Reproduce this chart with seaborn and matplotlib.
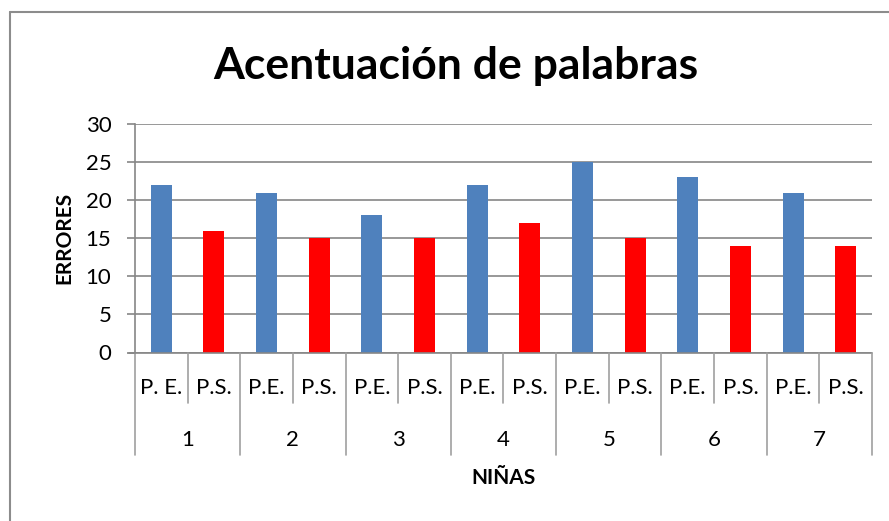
import matplotlib
matplotlib.use("Agg")
import matplotlib.pyplot as plt
import matplotlib.transforms as mtransforms
from matplotlib.lines import Line2D
import pandas as pd
import seaborn as sns

# ── Data ──────────────────────────────────────────────────────────────────────
ninas      = ["1", "2", "3", "4", "5", "6", "7"]
series     = ["P.E.", "P.S."]
pe_errores = [22, 21, 18, 22, 25, 23, 21]
ps_errores = [16, 15, 15, 17, 15, 14, 14]
# first P.E. label was typed with a space in the original sheet
pe_labels  = ["P. E.", "P.E.", "P.E.", "P.E.", "P.E.", "P.E.", "P.E."]
ps_labels  = ["P.S."] * 7
y_ticks    = [0, 5, 10, 15, 20, 25, 30]

_BLUE = "#4F81BD"
_RED  = "#FF0000"
_GRID = "#868686"
_FONT = ["Lato", "DejaVu Sans"]

rows = []
for n, pe, ps in zip(ninas, pe_errores, ps_errores):
    rows.append({"cat": f"{n}-PE", "serie": "P.E.", "errores": pe})
    rows.append({"cat": f"{n}-PS", "serie": "P.S.", "errores": ps})
df = pd.DataFrame(rows)
order = list(df["cat"])
labels = [l for pair in zip(pe_labels, ps_labels) for l in pair]

sns.set_style("white")
plt.rcParams["font.family"] = _FONT
plt.rcParams["text.color"] = "black"
plt.rcParams["axes.labelcolor"] = "black"
plt.rcParams["ytick.labelcolor"] = "black"

W, H = 889, 521
fig = plt.figure(figsize=(W / 100, H / 100), dpi=100)
ax = fig.add_axes([135 / W, 1 - 352.5 / H, (872 - 135) / W, (352.5 - 124) / H])

sns.barplot(data=df, x="cat", y="errores", hue="serie", order=order,
            hue_order=series, palette={"P.E.": _BLUE, "P.S.": _RED},
            saturation=1, dodge=False, width=0.4, legend=False,
            linewidth=0, ax=ax)

ax.set_xlim(-0.5, len(order) - 0.5)
ax.set_ylim(0, 30)
ax.set_yticks(y_ticks)
ax.yaxis.grid(True, color=_GRID, linewidth=1.2)
ax.set_axisbelow(True)
for s in ["top", "right", "bottom"]:
    ax.spines[s].set_visible(False)
ax.spines["left"].set_color(_GRID)
ax.spines["left"].set_linewidth(1.2)
ax.tick_params(axis="y", left=True, length=6, width=1.2, color=_GRID,
               labelsize=16, labelcolor="black", pad=11)
ax.set_xticks([])
ax.set_xlabel("")
ax.set_ylabel("ERRORES", fontsize=15, fontweight="bold", labelpad=8,
              color="black")

# ── Two-level category axis (Excel style) ────────────────────────────────────
trans = mtransforms.blended_transform_factory(ax.transData, ax.transAxes)
px = 1 / (352.5 - 124)    # one pixel in axes fraction (vertical)
y_inner = -(403 - 352.5) * px
y_outer = -(455 - 352.5) * px

ax.plot([-0.5 - 6 / 52.6, len(order) - 0.5], [0, 0], transform=trans,
        color=_GRID, lw=1.2, clip_on=False)
for i in range(len(order) + 1):
    x = i - 0.5
    y_end = y_outer if i % 2 == 0 else y_inner
    ax.plot([x, x], [0, y_end], transform=trans, color="#A0A0A0",
            lw=1.2, clip_on=False)
for i, lab in enumerate(labels):
    ax.text(i, -(388 - 352.5) * px, lab, transform=trans, ha="center",
            va="center", fontsize=16, color="black")
for g, n in enumerate(ninas):
    ax.text(2 * g + 0.5, -(440 - 352.5) * px, n, transform=trans,
            ha="center", va="center", fontsize=16, color="black")
ax.text(0.5, -(478 - 352.5) * px, "NIÑAS", transform=ax.transAxes,
        ha="center", va="center", fontsize=15, fontweight="bold", color="black")

fig.text(456 / W, 1 - 66 / H, "Acentuación de palabras", ha="center",
         va="center", fontsize=32, fontweight="bold", color="black")

# chart frame (only left and top edges fall inside the image)
fig.add_artist(Line2D([10 / W, 10 / W], [0, 1 - 12 / H], color="#8C8C8C", lw=1.5))
fig.add_artist(Line2D([10 / W, 1], [1 - 12 / H, 1 - 12 / H], color="#8C8C8C", lw=1.5))

fig.savefig("out.png", dpi=100)
plt.close(fig)
